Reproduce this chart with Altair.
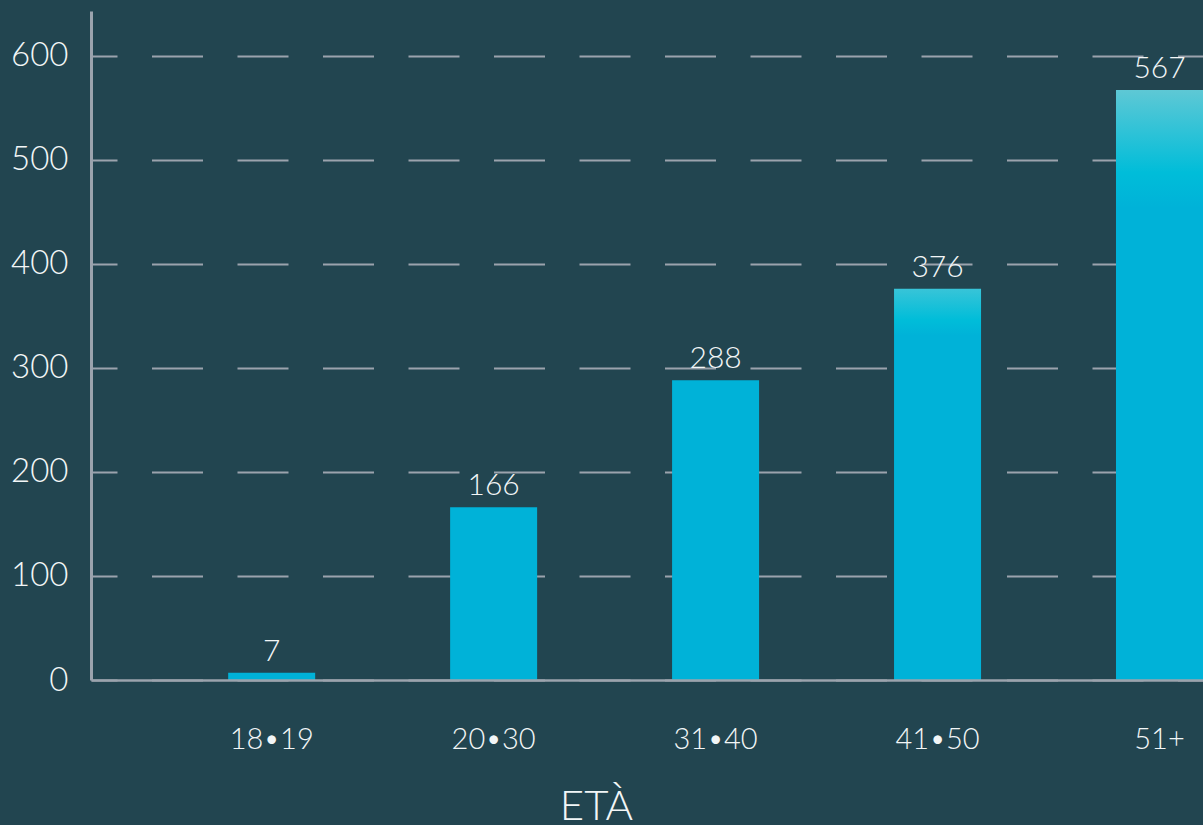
import altair as alt
import altair.utils.html as _ahtml
import pandas as pd

categories = ["18•19", "20•30", "31•40", "41•50", "51+"]
values = [7, 166, 288, 376, 567]
y_ticks = [0, 100, 200, 300, 400, 500, 600]

df = pd.DataFrame({"eta": categories, "n": values})

BG = "#224550"
BAR = "#00b2d8"
GRID = "#9ba3ad"
TXT = "#f2f6f7"
FONT = "Lato"

# page background matches the chart background (reference has no white margin)
_orig_template = _ahtml.TEMPLATES["standard"]


class _BgTemplate:
    def render(self, **kw):
        html = _orig_template.render(**kw)
        return html.replace(
            "<body>",
            '<body style="margin:0;background:%s;overflow:hidden">' % BG,
            1,
        )


_ahtml.TEMPLATES["standard"] = _BgTemplate()

x_enc = alt.X(
    "eta:N",
    sort=categories,
    scale=alt.Scale(paddingInner=0.608, paddingOuter=0.309, align=1),
    axis=alt.Axis(
        title="ETÀ",
        labelAngle=0,
        labelFontSize=29,
        labelColor=TXT,
        labelFont=FONT,
        labelFontWeight=300,
        labelBaseline="alphabetic",
        labelPadding=68,
        ticks=False,
        tickSize=0,
        domainColor=GRID,
        domainWidth=2.5,
        titleFontSize=42,
        titleFont=FONT,
        titleFontWeight=300,
        titleColor=TXT,
        titleX=505,
        titleY=139,
        titleAlign="center",
        titleBaseline="alphabetic",
        grid=False,
        zindex=1,
    ),
)

y_enc = alt.Y(
    "n:Q",
    scale=alt.Scale(domain=[0, 643], nice=False),
    axis=alt.Axis(
        title=None,
        values=y_ticks,
        labelFontSize=33,
        labelColor=TXT,
        labelFont=FONT,
        labelFontWeight=300,
        labelPadding=23,
        ticks=False,
        tickSize=0,
        domainColor=GRID,
        domainWidth=3,
        grid=True,
        gridColor=GRID,
        gridWidth=2,
        gridDash=[51, 34.5],
        gridDashOffset=25,
        labelFlush=False,
    ),
)

base = alt.Chart(df)

grad_big = alt.Gradient(
    gradient="linear",
    x1=0, x2=0, y1=0, y2=1,
    stops=[
        alt.GradientStop(offset=0, color="#5ec8d5"),
        alt.GradientStop(offset=0.14, color="#00bdd9"),
        alt.GradientStop(offset=0.2, color=BAR),
        alt.GradientStop(offset=1, color=BAR),
    ],
)
grad_mid = alt.Gradient(
    gradient="linear",
    x1=0, x2=0, y1=0, y2=1,
    stops=[
        alt.GradientStop(offset=0, color="#38c4d8"),
        alt.GradientStop(offset=0.08, color="#00bdd9"),
        alt.GradientStop(offset=0.12, color=BAR),
        alt.GradientStop(offset=1, color=BAR),
    ],
)

bars_low = base.transform_filter(alt.datum.n <= 300).mark_bar(color=BAR).encode(x=x_enc, y=y_enc)
bars_mid = base.transform_filter((alt.datum.n > 300) & (alt.datum.n <= 500)).mark_bar(color=grad_mid).encode(x=x_enc, y=y_enc)
bars_big = base.transform_filter(alt.datum.n > 500).mark_bar(color=grad_big).encode(x=x_enc, y=y_enc)

labels = base.mark_text(
    dy=-12,
    baseline="alphabetic",
    fontSize=30,
    font=FONT,
    fontWeight=300,
    color=TXT,
).encode(x=x_enc, y=y_enc, text="n:Q")

chart = (
    alt.layer(bars_low, bars_mid, bars_big, labels)
    .properties(
        width=1112,
        height=669,
        autosize=alt.AutoSizeParams(type="none"),
        padding={"left": 91, "top": 11, "right": 0, "bottom": 143},
        background=BG,
    )
    .configure_view(stroke=None)
)

chart.save("out.html", embed_options={"renderer": "svg", "actions": False})
